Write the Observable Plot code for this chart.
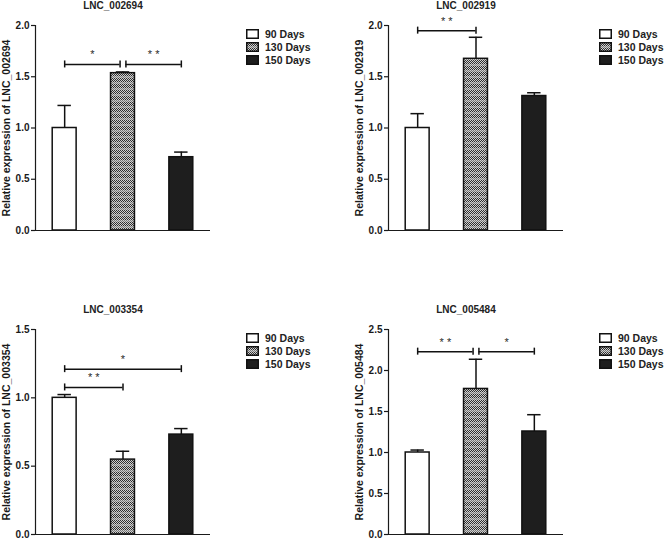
<!DOCTYPE html>
<html>
<head>
<meta charset="utf-8">
<script src="https://cdn.jsdelivr.net/npm/d3@7"></script>
<script src="https://cdn.jsdelivr.net/npm/@observablehq/plot@0.6"></script>
<style>
  body { margin: 0; background: #fff; font-family: "Liberation Sans", Arial, sans-serif; }
  #root { position: relative; width: 667px; height: 539px; overflow: hidden; background: #fff; }
  .panel { position: absolute; width: 314px; height: 240px; }
  .panel .chart { position: absolute; left: 0; top: 0; }
  .title { position: absolute; left: 53px; width: 120px; top: 0; height: 12px; line-height: 12px;
           text-align: center; font-size: 10px; font-weight: bold; color: #222; }
  .legend { position: absolute; left: 246px; top: 27px; }
  .row { display: flex; align-items: center; height: 13.4px; font-size: 10.5px; font-weight: bold; color: #222; white-space: nowrap; }
  .row svg { margin-right: 6px; display: block; }
</style>
</head>
<body>
<svg width="0" height="0" style="position:absolute">
  <defs>
    <pattern id="checker" width="2" height="6" patternUnits="userSpaceOnUse">
      <rect width="2" height="6" fill="#cfcfcf"/>
      <rect x="0" y="0" width="1" height="1" fill="#2e2e2e"/>
      <rect x="1" y="1" width="1" height="1" fill="#2e2e2e"/>
      <rect x="0" y="2" width="1" height="1" fill="#2e2e2e"/>
      <rect x="1" y="3" width="1" height="1" fill="#2e2e2e"/>
      <rect x="0" y="4" width="1" height="1" fill="#777777"/>
      <rect x="1" y="5" width="1" height="1" fill="#777777"/>
    </pattern>
  </defs>
</svg>
<div id="root"></div>
<script>
// ---------- data ----------
const days = ["90 Days", "130 Days", "150 Days"];
const genes = ["LNC_002694", "LNC_002919", "LNC_003354", "LNC_005484"];

const mean002694 = [1.00, 1.535, 0.715];
const sem002694  = [0.22, 0.012, 0.05];
const mean002919 = [1.00, 1.675, 1.312];
const sem002919  = [0.14, 0.21, 0.032];
const mean003354 = [1.00, 0.548, 0.731];
const sem003354  = [0.024, 0.061, 0.044];
const mean005484 = [1.00, 1.775, 1.256];
const sem005484  = [0.03, 0.362, 0.205];

const ticks002694 = [0, 0.5, 1.0, 1.5, 2.0];
const ticks002919 = [0, 0.5, 1.0, 1.5, 2.0];
const ticks003354 = [0, 0.5, 1.0, 1.5];
const ticks005484 = [0, 0.5, 1.0, 1.5, 2.0, 2.5];

// significance brackets: group a vs group b, bracket level y, label
const brackets002694 = [{a: 0, b: 1, y: 1.62, label: "*"}, {a: 1, b: 2, y: 1.62, label: "* *"}];
const brackets002919 = [{a: 0, b: 1, y: 1.95, label: "* *"}];
const brackets003354 = [{a: 0, b: 2, y: 1.21, label: "*"}, {a: 0, b: 1, y: 1.076, label: "* *"}];
const brackets005484 = [{a: 0, b: 1, y: 2.23, label: "* *"}, {a: 1, b: 2, y: 2.23, label: "*"}];

// ---------- styles / layout ----------
const dayFills = ["#ffffff", "url(#checker)", "#1e1e1e"];
const BAR_HALF = 0.205, CAP_HALF = 0.115, GAP = 0.05;
const INK = "#1a1a1a";

const panels = [
  {gene: genes[0], means: mean002694, sems: sem002694, ticks: ticks002694, brackets: brackets002694, left: 0,   top: 0},
  {gene: genes[1], means: mean002919, sems: sem002919, ticks: ticks002919, brackets: brackets002919, left: 353, top: 0},
  {gene: genes[2], means: mean003354, sems: sem003354, ticks: ticks003354, brackets: brackets003354, left: 0,   top: 304},
  {gene: genes[3], means: mean005484, sems: sem005484, ticks: ticks005484, brackets: brackets005484, left: 353, top: 304}
];

const root = document.getElementById("root");

function makePanel(p) {
  const rows = days.map((day, i) => ({day, i, mean: p.means[i], sem: p.sems[i], fill: dayFills[i]}));
  const br = p.brackets.map(b => {
    const leftShared = p.brackets.some(o => o !== b && o.y === b.y && o.b === b.a);
    const rightShared = p.brackets.some(o => o !== b && o.y === b.y && o.a === b.b);
    return {...b, x1: b.a + (leftShared ? GAP : 0), x2: b.b - (rightShared ? GAP : 0)};
  });
  const ends = br.flatMap(b => [{x: b.x1, y: b.y}, {x: b.x2, y: b.y}]);
  const yMax = p.ticks[p.ticks.length - 1];

  const chart = Plot.plot({
    width: 215,
    height: 240,
    marginLeft: 35,
    marginRight: 5,
    marginTop: 25,
    marginBottom: 10,
    x: {domain: [-0.5, 2.5], axis: null},
    y: {domain: [0, yMax], axis: null},
    color: {type: "identity"},
    style: {fontFamily: '"Liberation Sans", Arial, sans-serif', color: INK, background: "transparent", overflow: "visible"},
    marks: [
      Plot.rect(rows, {x1: d => d.i - BAR_HALF, x2: d => d.i + BAR_HALF, y1: 0, y2: "mean",
                       fill: "fill", stroke: "#111", strokeWidth: 1.5}),
      Plot.ruleX(rows, {x: "i", y1: "mean", y2: d => d.mean + d.sem, stroke: "#111", strokeWidth: 1.5}),
      Plot.ruleY(rows, {y: d => d.mean + d.sem, x1: d => d.i - CAP_HALF, x2: d => d.i + CAP_HALF, stroke: "#111", strokeWidth: 1.5}),
      Plot.ruleY(br, {y: "y", x1: "x1", x2: "x2", stroke: "#111", strokeWidth: 1.5}),
      Plot.ruleX(ends, {x: "x", y1: "y", y2: "y", insetTop: -3.5, insetBottom: -3.5, stroke: "#111", strokeWidth: 1.5}),
      Plot.text(br, {x: d => (d.x1 + d.x2) / 2, y: "y", text: "label", dy: -9.5, fontSize: 11, fill: "#2a2a2a"}),
      Plot.ruleX([-0.5], {stroke: INK, strokeWidth: 1.2}),
      Plot.ruleY([0], {stroke: INK, strokeWidth: 1.2}),
      Plot.axisY({ticks: p.ticks, tickFormat: d3.format(".1f"), tickSize: 4, tickPadding: 2,
                  fontSize: 10, fontWeight: "bold", label: null, stroke: INK, strokeWidth: 1.2}),
      Plot.text(["Relative expression of " + p.gene], {frameAnchor: "left", textAnchor: "middle", lineAnchor: "middle",
                  rotate: -90, dx: -29, fontSize: 10.5, fontWeight: "bold", fill: INK})
    ]
  });

  const div = document.createElement("div");
  div.className = "panel";
  div.style.left = p.left + "px";
  div.style.top = p.top + "px";
  chart.classList.add("chart");
  div.appendChild(chart);

  const title = document.createElement("div");
  title.className = "title";
  title.textContent = p.gene;
  div.appendChild(title);

  const legend = document.createElement("div");
  legend.className = "legend";
  days.forEach((day, i) => {
    const row = document.createElement("div");
    row.className = "row";
    const sw = d3.create("svg").attr("width", 13).attr("height", 10);
    sw.append("rect").attr("x", 0.75).attr("y", 0.75).attr("width", 11.5).attr("height", 8.5)
      .attr("fill", dayFills[i]).attr("stroke", "#111").attr("stroke-width", 1.5);
    row.appendChild(sw.node());
    const span = document.createElement("span");
    span.textContent = day;
    row.appendChild(span);
    legend.appendChild(row);
  });
  div.appendChild(legend);
  root.appendChild(div);
}

panels.forEach(makePanel);
</script>
</body>
</html>
